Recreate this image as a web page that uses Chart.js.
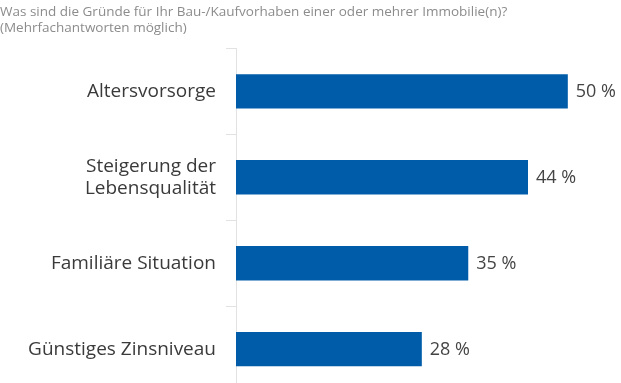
<!DOCTYPE html>
<html>
<head>
<meta charset="utf-8">
<script src="https://cdn.jsdelivr.net/npm/chart.js@4"></script>
<style>
  html, body { margin: 0; padding: 0; background: #fff; overflow: hidden; }
  #wrap { width: 621px; height: 413px; }
</style>
</head>
<body>
<div id="wrap"><canvas id="myChart"></canvas></div>
<script>
(() => {
  'use strict';
  const titleLines = [
    'Was sind die Gründe für Ihr Bau-/Kaufvorhaben einer oder mehrer Immobilie(n)?',
    '(Mehrfachantworten möglich)'
  ];
  const categories = [
    'Altersvorsorge',
    ['Steigerung der', 'Lebensqualität'],
    'Familiäre Situation',
    'Günstiges Zinsniveau'
  ];
  const shares = [50, 44, 35, 28];

  // value labels right of each bar
  const valueLabels = {
    id: 'valueLabels',
    afterDatasetsDraw(chart) {
      const ctx = chart.ctx;
      const meta = chart.getDatasetMeta(0);
      ctx.save();
      ctx.font = '18px "Open Sans"';
      ctx.fillStyle = '#444';
      ctx.textAlign = 'left';
      ctx.textBaseline = 'middle';
      meta.data.forEach((bar, i) => {
        ctx.fillText(shares[i] + ' %', bar.x + 8, bar.y + 1);
      });
      ctx.restore();
    }
  };

  const ctx = document.getElementById('myChart');
  // eslint-disable-next-line no-unused-vars
  const myChart = new Chart(ctx, {
    type: 'bar',
    data: {
      labels: categories,
      datasets: [{
        data: shares,
        backgroundColor: '#005ca9',
        borderWidth: 0,
        barPercentage: 0.8,
        categoryPercentage: 0.5
      }]
    },
    options: {
      indexAxis: 'y',
      responsive: true,
      maintainAspectRatio: false,
      animation: false,
      layout: { padding: { left: 0, right: 20, top: 0, bottom: 0 } },
      scales: {
        x: { display: false, min: 0, max: 55 },
        y: {
          afterFit(scale) { scale.width = 236; },
          border: { color: '#e2e2e2', width: 1 },
          grid: {
            drawOnChartArea: false,
            color: '#e2e2e2',
            tickLength: 10
          },
          ticks: {
            padding: 10,
            color: '#3a3a3a',
            font: { family: '"Open Sans"', size: 19, lineHeight: 1.15 }
          }
        }
      },
      plugins: {
        legend: { display: false },
        tooltip: { enabled: false },
        title: {
          display: true,
          text: titleLines,
          align: 'start',
          color: '#8c8c8c',
          font: { family: '"Open Sans"', size: 13.5, weight: 'normal', lineHeight: 1.2 },
          padding: { top: 4, bottom: 12 }
        }
      }
    },
    plugins: [valueLabels]
  });
})();
</script>
</body>
</html>
